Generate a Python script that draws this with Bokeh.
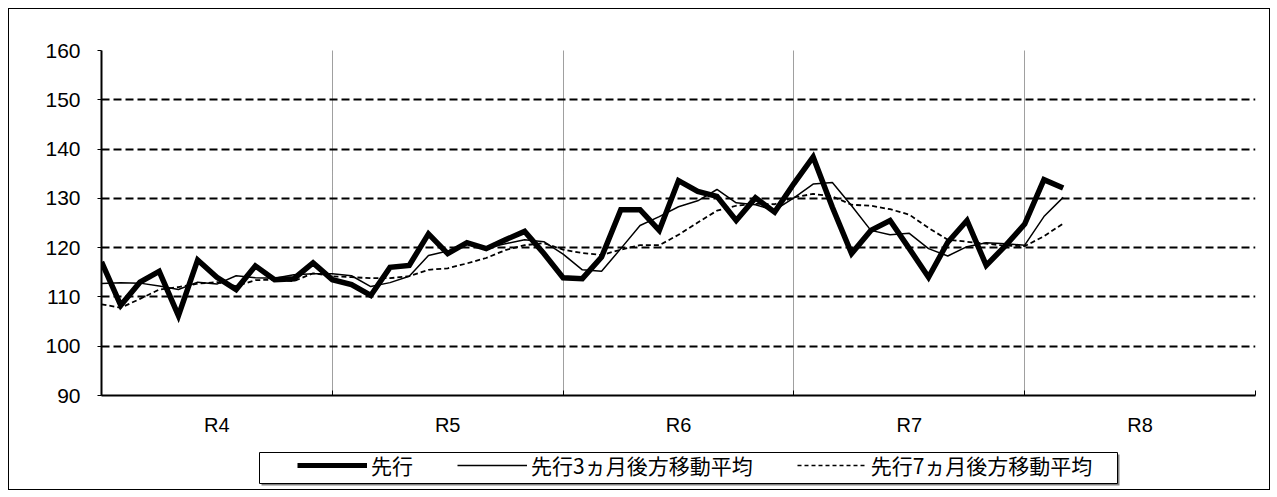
from bokeh.plotting import figure
from bokeh.layouts import column
from bokeh.models import FixedTicker, Legend, LegendItem, Range1d, BoxAnnotation
from bokeh.embed import file_html
from bokeh.resources import INLINE

# ---- data ----
years = ["R4", "R5", "R6", "R7", "R8"]
months_per_year = 12
yticks = [90, 100, 110, 120, 130, 140, 150, 160]

senkou = [117.1, 108.3, 113.0, 115.2, 106.2, 117.5, 114.0, 111.5, 116.3, 113.5, 113.7, 116.9, 113.5,
          112.5, 110.3, 116.0, 116.4, 122.8, 118.8, 121.0, 119.8, 121.6, 123.3, 118.8, 113.9,
          113.7, 118.1, 127.7, 127.7, 123.5, 133.6, 131.4, 130.4, 125.5, 130.1, 127.2, 133.0,
          138.4, 128.2, 118.8, 123.5, 125.5, 119.8, 114.0, 121.1, 125.5, 116.4, 120.4, 124.8,
          133.8, 132.1]

ma3 = [112.7, 112.9, 112.8, 112.2, 111.5, 113.0, 112.6, 114.3, 113.9, 113.8, 114.5, 114.7, 114.7,
       114.3, 112.1, 112.9, 114.2, 118.4, 119.3, 120.9, 119.9, 120.8, 121.6, 121.2, 118.7,
       115.5, 115.2, 119.8, 124.5, 126.3, 128.3, 129.5, 131.8, 129.1, 128.7, 127.6, 130.1,
       132.9, 133.2, 128.5, 123.5, 122.6, 122.9, 119.8, 118.3, 120.2, 121.0, 120.8, 120.5,
       126.3, 130.2]

ma7 = [108.5, 107.8, 109.6, 111.5, 112.0, 112.7, 113.0, 112.2, 113.4, 113.5, 113.2, 114.8, 114.2,
       114.0, 113.8, 113.8, 114.2, 115.5, 115.8, 116.8, 117.9, 119.5, 120.5, 120.9, 119.6,
       118.9, 118.5, 119.6, 120.5, 120.5, 122.6, 125.1, 127.5, 128.5, 128.9, 128.8, 130.2,
       130.9, 130.4, 128.7, 128.5, 127.8, 126.7, 124.0, 121.6, 121.2, 120.8, 120.4, 120.3,
       122.3, 124.9]

labels = ["先行", "先行3ヵ月後方移動平均", "先行7ヵ月後方移動平均"]

# ---- derived positions ----
n_total = len(years) * months_per_year
x = list(range(len(senkou)))
year_centers = [i * months_per_year + months_per_year / 2 for i in range(len(years))]
year_bounds = [i * months_per_year for i in range(len(years) + 1)]

BL, BR = 92, 14  # left / right borders shared by both rows

# ---- main chart ----
p = figure(frame_width=1154, frame_height=345,
           x_range=Range1d(0, n_total), y_range=Range1d(yticks[0], yticks[-1]),
           output_backend="svg", toolbar_location=None,
           min_border_left=BL, min_border_right=BR, min_border_top=41, min_border_bottom=50)
p.outline_line_color = None
p.background_fill_color = "white"
p.border_fill_color = "white"

p.ygrid.ticker = FixedTicker(ticks=yticks[1:])
p.ygrid.grid_line_color = "black"
p.ygrid.grid_line_width = 2
p.ygrid.grid_line_dash = "8 4"
p.xgrid.ticker = FixedTicker(ticks=year_bounds[1:-1])
p.xgrid.grid_line_color = "#404040"
p.xgrid.grid_line_width = 1
p.xgrid.grid_line_dash = "1 1"

p.yaxis.ticker = FixedTicker(ticks=yticks)
p.yaxis.axis_line_width = 2
p.yaxis.axis_line_color = "black"
p.yaxis.major_tick_out = 4
p.yaxis.major_tick_in = 0
p.yaxis.major_tick_line_color = "black"
p.yaxis.minor_tick_line_color = None
p.yaxis.major_label_standoff = 17
p.yaxis.major_label_text_font = "Liberation Sans"
p.yaxis.major_label_text_font_size = "21px"
p.yaxis.major_label_text_color = "black"

p.xaxis.ticker = FixedTicker(ticks=year_centers, minor_ticks=year_bounds)
p.xaxis.major_label_overrides = {c: y for c, y in zip(year_centers, years)}
p.xaxis.axis_line_width = 2
p.xaxis.axis_line_color = "black"
p.xaxis.major_tick_line_color = None
p.xaxis.minor_tick_in = 5
p.xaxis.minor_tick_out = 0
p.xaxis.minor_tick_line_color = "black"
p.xaxis.major_label_standoff = 12
p.xaxis.major_label_text_font = "Liberation Sans"
p.xaxis.major_label_text_font_size = "20px"
p.xaxis.major_label_text_color = "black"

styles = [dict(line_color="black", line_width=5.5, line_join="miter"),
          dict(line_color="black", line_width=1.5),
          dict(line_color="black", line_width=1.8, line_dash="5 3")]

r1 = p.line(x, senkou, **styles[0])
r2 = p.line(x, ma3, **styles[1])
r3 = p.line(x, ma7, **styles[2])

# ---- legend strip below the chart ----
lg = figure(frame_width=1154, frame_height=44,
            x_range=Range1d(0, 1), y_range=Range1d(0, 1),
            output_backend="svg", toolbar_location=None,
            min_border_left=BL, min_border_right=BR, min_border_top=0, min_border_bottom=0)
lg.axis.visible = False
lg.grid.visible = False
lg.outline_line_color = None
lg.background_fill_color = "white"
lg.border_fill_color = "white"

# proxy renderers for the legend swatches (kept outside the visible range)
off = [-10, -9]
l1 = lg.line(off, off, **dict(styles[0], line_width=5))
l2 = lg.line(off, off, **styles[1])
l3 = lg.line(off, off, **dict(styles[2], line_dash="4 3", line_width=1.5))

# legend frame with a grey drop shadow
lg.add_layout(BoxAnnotation(left=160, right=1018, bottom=4, top=35,
                            left_units="screen", right_units="screen",
                            bottom_units="screen", top_units="screen",
                            fill_color="#808080", fill_alpha=1, line_alpha=0))
lg.add_layout(BoxAnnotation(left=158, right=1016, bottom=6, top=37,
                            left_units="screen", right_units="screen",
                            bottom_units="screen", top_units="screen",
                            fill_color="white", fill_alpha=1,
                            line_color="black", line_width=1, line_alpha=1))

legend = Legend(items=[LegendItem(label=labels[0], renderers=[l1]),
                       LegendItem(label=labels[1], renderers=[l2]),
                       LegendItem(label=labels[2], renderers=[l3])],
                orientation="horizontal", location=(196, 9),
                glyph_width=70, glyph_height=20, label_standoff=4, spacing=44, padding=0,
                border_line_color=None, background_fill_alpha=0,
                label_text_font="Noto Sans CJK JP", label_text_font_size="21px",
                label_text_color="black", margin=0)
lg.add_layout(legend, "center")

layout = column(p, lg, spacing=0,
                styles={"border": "1px solid #000000", "margin": "8px"})

open("out.html", "w").write(file_html(layout, INLINE))
